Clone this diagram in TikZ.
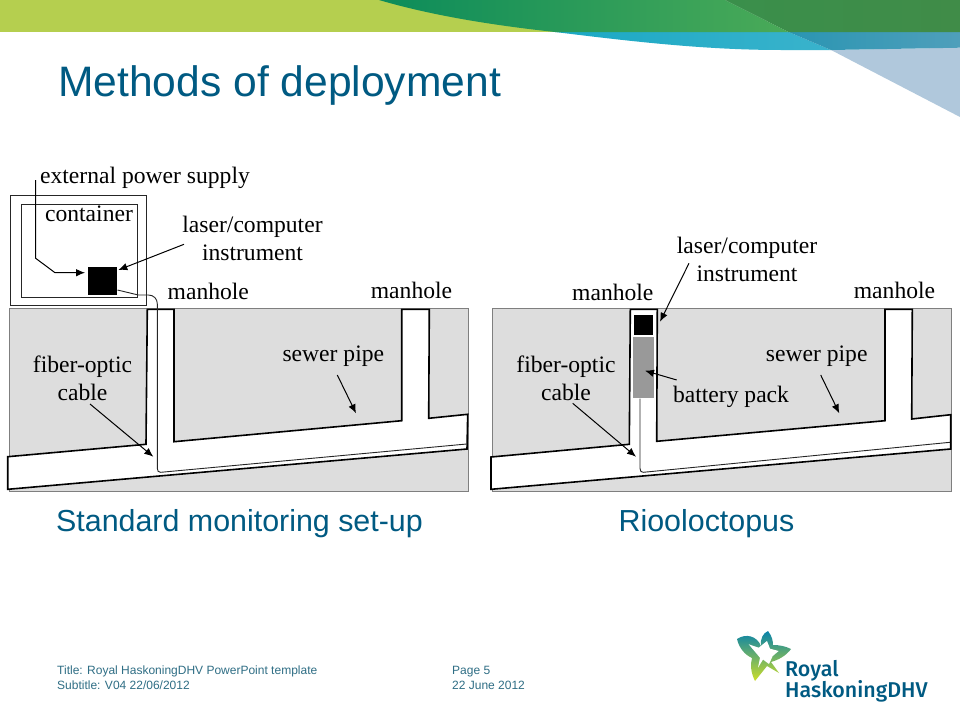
\documentclass[tikz,border=0pt]{standalone}
\usepackage{fontspec}
\setmainfont{Liberation Serif}
\newfontfamily\arialf{Liberation Sans}
\newfontfamily\logof[UprightFont=* Medium]{Fira Sans}
\usetikzlibrary{arrows.meta}
\definecolor{titleblue}{HTML}{005A82}
\definecolor{footblue}{HTML}{2F6E85}
\definecolor{ground}{HTML}{DDDDDD}
\definecolor{edgegray}{HTML}{7F7F7F}
\definecolor{battery}{HTML}{999999}
\definecolor{lime}{HTML}{B5CF4F}
\definecolor{palesky}{HTML}{B0C8DC}
\definecolor{tealA}{HTML}{1AA8C4}
\definecolor{tealB}{HTML}{3AB3CC}
\definecolor{tealC}{HTML}{2A95B2}
\definecolor{tealD}{HTML}{4F9FBB}
\definecolor{greenA}{HTML}{0C8C5A}
\definecolor{greenB}{HTML}{1E9F50}
\definecolor{greenC}{HTML}{4AAA58}
\definecolor{greenD}{HTML}{3A8F4B}
\definecolor{greenE}{HTML}{408C48}
\definecolor{starA}{HTML}{0882AA}
\definecolor{starB}{HTML}{3CAF5A}
\definecolor{starC}{HTML}{CDDE28}
\tikzset{
  x=1pt,y=-1pt,
  soil/.style={fill=ground,draw=edgegray,line width=1pt},
  pipe/.style={fill=white,draw=black,line width=1.6pt,line join=miter},
  cablewire/.style={draw=black!85,line width=0.9pt},
  pointer/.style={draw=black,line width=1pt,-{Latex[length=9pt,width=7.5pt]}},
  lbl/.style={inner sep=0pt,font=\fontsize{23.6}{28}\selectfont,text=black,align=center},
  head/.style={inner sep=0pt,font=\arialf\fontsize{30.4}{34}\selectfont,text=titleblue,anchor=base},
  foot/.style={inner sep=0pt,font=\arialf\fontsize{12}{14}\selectfont,text=footblue,anchor=base west},
  boxline/.style={draw=black!85,line width=1pt,fill=none},
}
\begin{document}
\begin{tikzpicture}
\useasboundingbox (0,0) rectangle (960,720);
\fill[white] (0,0) rectangle (960,720);
% header
\fill[lime] (0,0) rectangle (560,32);
\fill[palesky] (831,50) -- (960,47.7) -- (960,117) -- cycle;
\shade[left color=tealA,right color=tealB]
  (555,32) .. controls (628,41) and (704,50) .. (781,50) -- (831,50) -- (788.6,32) -- cycle;
\shade[left color=tealC,right color=tealD]
  (788.6,32) -- (960,32) -- (960,47.7) -- (831,50) -- cycle;
\shade[left color=greenA,middle color=greenB,right color=greenC]
  (379,0) .. controls (430,15) and (490,25) .. (555,32) -- (788.6,32) -- (725,0) -- cycle;
\shade[left color=greenD,right color=greenE]
  (725,0) -- (960,0) -- (960,32) -- (788.6,32) -- cycle;
\node[head,anchor=base west,font=\arialf\fontsize{42.6}{46}\selectfont] (title) at (58,96.5) {Methods of deployment};

% left panel
\filldraw[soil] (9,308) rectangle (468,491);
\filldraw[pipe] (147.3,309.3) -- (174,309.3) -- (174,441.7) -- (401.7,420.7) -- (401.7,309.3) -- (429.3,309.3) -- (428.7,418.3) -- (467.7,414.3) -- (467,449) -- (7.7,489.3) -- (7.7,456.7) -- (146,444.3) -- cycle;
\draw[boxline] (10.3,195.3) rectangle (146.3,305.3);
\draw[boxline] (21.7,204) rectangle (137.3,297.3);
\node[fill=black,inner sep=0pt,minimum width=29pt,minimum height=28pt] (lbox) at (102.8,281) {};
\coordinate (cableL) at ([yshift=-9pt]lbox.east);
\draw[cablewire] (cableL) -- (138.3,295) -- (148.3,295) .. controls (154,295) and (157.3,299) .. (157.3,304) -- (157.3,468.3) .. controls (157.3,471) and (158.5,472.5) .. (160.7,472.3) -- (466.7,444);
\coordinate (pw0) at (35.7,180);
\coordinate (pw1) at (35.7,258.3);
\coordinate (pw2) at (55,272.7);
\draw[pointer,shorten >=3pt] (pw0) -- (pw1) -- (pw2) -- (lbox.west |- pw2);
\node[lbl,anchor=base] (eps) at (145,183) {external power supply};
\node[lbl,anchor=base] (cont) at (89,221) {container};
\node[lbl] (lasL) at (252.5,238.5) {laser/computer\\instrument};
\node[lbl,anchor=base] (mh1) at (208.3,299) {manhole};
\node[lbl,anchor=base] (mh2) at (411.5,298.3) {manhole};
\node[lbl,anchor=base] (spL) at (333.3,361.7) {sewer pipe};
\node[lbl] (foL) at (82.5,378) {fiber-optic\\cable};
\coordinate (lasLs) at (184,244.3);
\coordinate (lasLe) at (118.3,270);
\draw[pointer] (lasLs) -- (lasLe);
\coordinate (foLs) at (90,404);
\coordinate (foLe) at (153.3,456.7);
\draw[pointer] (foLs) -- (foLe);
\coordinate (spLs) at (337.3,375);
\coordinate (spLe) at (356,413.3);
\draw[pointer] (spLs) -- (spLe);

% right panel
\filldraw[soil] (492.3,308.7) rectangle (951.3,491);
\filldraw[pipe] (630.3,309.3) -- (657.3,309.3) -- (656.7,441.3) -- (885,420.7) -- (885,309.3) -- (912.3,309.3) -- (911.7,419) -- (950.7,414.7) -- (950.7,449) -- (491,489.3) -- (491,457) -- (629.3,444.3) -- cycle;
\node[fill=black,inner sep=0pt,minimum width=19.3pt,minimum height=20.3pt] (rbox) at (643.7,324.9) {};
\node[fill=battery,inner sep=0pt,minimum width=21pt,minimum height=61.6pt] (batt) at (643.5,367.5) {};
\draw[cablewire] (batt.south -| 640,0) -- (640,468.3) .. controls (640,471) and (641.2,472.5) .. (643.3,472.3) -- (950,442.3);
\node[lbl] (lasR) at (747,259.5) {laser/computer\\instrument};
\node[lbl,anchor=base] (mh3) at (612.8,300) {manhole};
\node[lbl,anchor=base] (mh4) at (894.5,298.7) {manhole};
\node[lbl] (foR) at (566,378) {fiber-optic\\cable};
\node[lbl,anchor=base] (bpL) at (731,402.3) {battery pack};
\node[lbl,anchor=base] (spR) at (816.7,361.7) {sewer pipe};
\coordinate (lasRs) at (689,263.3);
\coordinate (lasRe) at (660,321.7);
\draw[pointer] (lasRs) -- (lasRe);
\coordinate (bps) at (676.7,380);
\coordinate (bpe) at (645,370.7);
\draw[pointer] (bps) -- (bpe);
\coordinate (foRs) at (572.7,403.3);
\coordinate (foRe) at (636,456.7);
\draw[pointer] (foRs) -- (foRe);
\coordinate (spRs) at (820.7,375);
\coordinate (spRe) at (839.3,413.3);
\draw[pointer] (spRs) -- (spRe);

% captions
\node[head] (capL) at (239.5,531) {Standard monitoring set-up};
\node[head] (capR) at (706.5,531) {Riooloctopus};

% footer
\node[foot] (f1) at (57,674.5) {Title: Royal HaskoningDHV PowerPoint template};
\node[foot] (f2) at (57,689) {Subtitle: V04 22/06/2012};
\node[foot] (f3) at (452,674.5) {Page 5};
\node[foot] (f4) at (452,689) {22 June 2012};

% logo
\shade[top color=starA,middle color=starB,bottom color=starC]
  (737,639) .. controls (746,633) and (757,636) .. (761,646)
  .. controls (760,639) and (763,633) .. (768,631)
  .. controls (772,636) and (773,641) .. (773,645)
  .. controls (779,645) and (785,646) .. (791,649)
  .. controls (786,656) and (778,660) .. (771,662)
  -- (779,673) -- (767,666) -- (755,681)
  .. controls (751,673) and (750,665) .. (752,658)
  .. controls (745,655) and (739,648) .. (737,639) -- cycle;
\fill[white] (748.7,644.3) -- (758.7,647.7) -- (767,641) -- (770,648.7) -- (778.7,651) -- (772.7,656) -- (769,664) -- (763,659.5) -- (758,667.7) -- (760,657.7) -- cycle;
\node[inner sep=0pt,anchor=base west,font=\logof\fontsize{21.4}{24}\selectfont,text=titleblue] (lg1) at (785,676.7) {Royal};
\node[inner sep=0pt,anchor=base west,font=\logof\fontsize{21.4}{24}\selectfont,text=titleblue] (lg2) at (785,697) {HaskoningDHV};
\end{tikzpicture}
\end{document}
